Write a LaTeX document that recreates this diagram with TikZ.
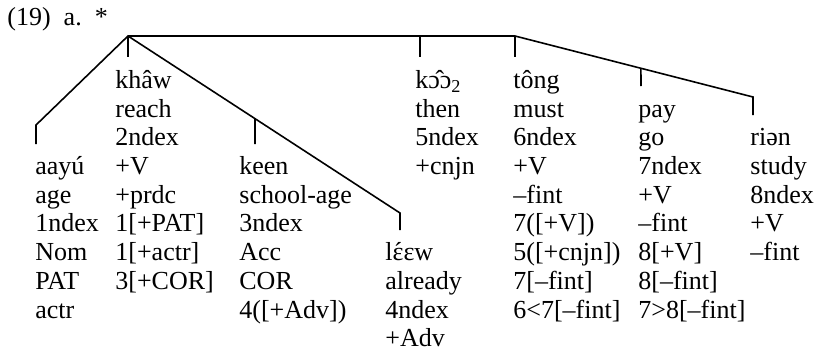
\documentclass[tikz,border=0pt]{standalone}
\usepackage{fontspec}
\setmainfont{Liberation Serif}
\usetikzlibrary{calc}
\newcommand\colstrut{\rule{0pt}{12pt}}
\newcommand\epsacute{\ooalign{ɛ\cr\hidewidth ´\hidewidth\cr}}

\begin{document}
\begin{tikzpicture}[
    x=0.5pt, y=-0.5pt,
    every node/.style={font=\fontsize{13}{14.35}\selectfont},
    col/.style={anchor=north west, inner sep=0pt, align=left},
    branch/.style={line width=0.8pt, line join=miter}
  ]
  \useasboundingbox (0,0) rectangle (818,359);

  \node[anchor=base west, inner sep=0pt] (ex) at (7,25) {(19)\enspace a.\enspace *};

  % branch points and leaf ends
  \coordinate (root) at (128,36);
  \coordinate (mid)  at (515,36);
  \coordinate (b1) at (36,125);  \coordinate (t1) at (36,144);
  \coordinate (t2) at (128,57);
  \coordinate (t3) at (255,144);
  \coordinate (b4) at (400,213); \coordinate (t4) at (400,230);
  \coordinate (t5) at (420,57);
  \coordinate (t6) at (515,57);
  \coordinate (t7) at (641,86);
  \coordinate (b8) at (753,97);  \coordinate (t8) at (753,115);

  % the words
  \node[col] (aayu) at (35,150.1)  {\colstrut aayú\\age\\1ndex\\Nom\\PAT\\actr};
  \node[col] (khaw) at (115,64)    {\colstrut khâw\\reach\\2ndex\\+V\\+prdc\\1[+PAT]\\1[+actr]\\3[+COR]};
  \node[col] (keen) at (239,150.1) {\colstrut keen\\school-age\\3ndex\\Acc\\COR\\4([+Adv])};
  \node[col] (leew) at (385,236.2) {\colstrut l\epsacute ɛw\\already\\4ndex\\+Adv};
  \node[col] (koo)  at (415,64)    {\colstrut k\^{ɔ}ɔ\textsubscript{2}\\then\\5ndex\\+cnjn};
  \node[col] (tong) at (513,64)    {\colstrut tông\\must\\6ndex\\+V\\--fint\\7([+V])\\5([+cnjn])\\7[--fint]\\6<7[--fint]};
  \node[col] (pay)  at (638,92.7)  {\colstrut pay\\go\\7ndex\\+V\\--fint\\8[+V]\\8[--fint]\\7>8[--fint]};
  \node[col] (rien) at (750,121.4) {\colstrut riən\\study\\8ndex\\+V\\--fint};

  % tree
  \draw[branch] (t1) -- (b1) -- (root) -- (b4) -- (t4);
  \draw[branch] (root) -- (t2);
  \draw[branch] ($(root)!0.467!(b4)$) -- (t3);
  \draw[branch] (root) -- (mid) -- (b8) -- (t8);
  \draw[branch] (t5 |- root) -- (t5);
  \draw[branch] (mid) -- (t6);
  \draw[branch] ($(mid)!0.529!(b8)$) -- (t7);
\end{tikzpicture}
\end{document}
